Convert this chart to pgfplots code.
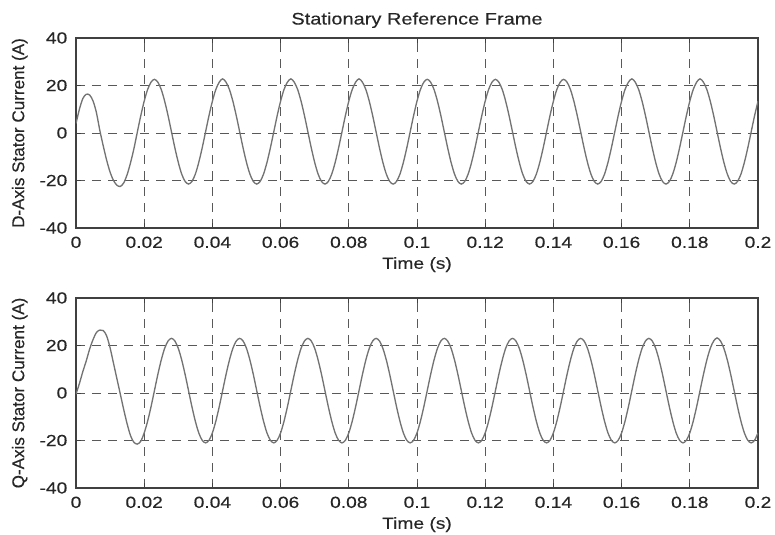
\documentclass[border=0pt]{standalone}
\usepackage{fontspec}
\setmainfont[FakeStretch=1.2,FakeBold=0.3]{Liberation Sans}
\newfontfamily\ylabfont[FakeBold=0.3]{Liberation Sans}
\usepackage{pgfplots}
\pgfplotsset{compat=1.18}

% time in ms, current in A
\pgfplotstableread{
t i
0 4
1 10
2 14.5
3 16.3
4 16
5 13.5
6 8.5
7 1
8 -5.5
9 -11.5
10 -16.5
11 -20
12 -22
13 -22.5
14 -21
15 -17.5
16 -12.5
17 -6.5
18 0.5
19 7.3
20 13.4
21 18.3
22 21.4
23 22.6
24 21.4
25 18.3
26 13.4
27 7.3
28 0.5
29 -6.3
30 -12.4
31 -17.3
32 -20.4
33 -21.5
34 -20.4
35 -17.3
36 -12.4
37 -6.3
38 0.5
39 7.3
40 13.4
41 18.3
42 21.4
43 22.8
44 21.4
45 18.3
46 13.4
47 7.3
48 0.5
49 -6.3
50 -12.4
51 -17.3
52 -20.4
53 -21.5
54 -20.4
55 -17.3
56 -12.4
57 -6.3
58 0.5
59 7.3
60 13.4
61 18.3
62 21.4
63 22.8
64 21.4
65 18.3
66 13.4
67 7.3
68 0.5
69 -6.3
70 -12.4
71 -17.3
72 -20.4
73 -21.5
74 -20.4
75 -17.3
76 -12.4
77 -6.3
78 0.5
79 7.3
80 13.4
81 18.3
82 21.4
83 22.8
84 21.4
85 18.3
86 13.4
87 7.3
88 0.5
89 -6.3
90 -12.4
91 -17.3
92 -20.4
93 -21.5
94 -20.4
95 -17.3
96 -12.4
97 -6.3
98 0.5
99 7.3
100 13.4
101 18.3
102 21.4
103 22.6
104 21.4
105 18.3
106 13.4
107 7.3
108 0.5
109 -6.3
110 -12.4
111 -17.3
112 -20.4
113 -21.5
114 -20.4
115 -17.3
116 -12.4
117 -6.3
118 0.5
119 7.3
120 13.4
121 18.3
122 21.4
123 22.6
124 21.4
125 18.3
126 13.4
127 7.3
128 0.5
129 -6.3
130 -12.4
131 -17.3
132 -20.4
133 -21.5
134 -20.4
135 -17.3
136 -12.4
137 -6.3
138 0.5
139 7.3
140 13.4
141 18.3
142 21.4
143 22.6
144 21.4
145 18.3
146 13.4
147 7.3
148 0.5
149 -6.3
150 -12.4
151 -17.3
152 -20.4
153 -21.5
154 -20.4
155 -17.3
156 -12.4
157 -6.3
158 0.5
159 7.3
160 13.4
161 18.3
162 21.4
163 22.8
164 21.4
165 18.3
166 13.4
167 7.3
168 0.5
169 -6.3
170 -12.4
171 -17.3
172 -20.4
173 -21.5
174 -20.4
175 -17.3
176 -12.4
177 -6.3
178 0.5
179 7.3
180 13.4
181 18.3
182 21.4
183 22.8
184 21.4
185 18.3
186 13.4
187 7.3
188 0.5
189 -6.3
190 -12.4
191 -17.3
192 -20.4
193 -21.5
194 -20.4
195 -17.3
196 -12.4
197 -6.3
198 0.5
199 7.3
200 13.4
}\dcurrent

\pgfplotstableread{
t i
0 -0.5
1 4
2 9
3 13.5
4 18.5
5 22.5
6 25.5
7 26.5
8 26.3
9 24
10 19
11 12.5
12 6
13 -0.5
14 -7
15 -13
16 -18
17 -20.8
18 -21.5
19 -20.3
20 -16.8
21 -11.9
22 -5.8
23 1
24 7.8
25 13.9
26 18.8
27 21.9
28 23
29 21.9
30 18.8
31 13.9
32 7.8
33 1
34 -5.8
35 -11.9
36 -16.8
37 -19.9
38 -21
39 -19.9
40 -16.8
41 -11.9
42 -5.8
43 1
44 7.8
45 13.9
46 18.8
47 21.9
48 23
49 21.9
50 18.8
51 13.9
52 7.8
53 1
54 -5.8
55 -11.9
56 -16.8
57 -19.9
58 -21
59 -19.9
60 -16.8
61 -11.9
62 -5.8
63 1
64 7.8
65 13.9
66 18.8
67 21.9
68 23
69 21.9
70 18.8
71 13.9
72 7.8
73 1
74 -5.8
75 -11.9
76 -16.8
77 -19.9
78 -21
79 -19.9
80 -16.8
81 -11.9
82 -5.8
83 1
84 7.8
85 13.9
86 18.8
87 21.9
88 23
89 21.9
90 18.8
91 13.9
92 7.8
93 1
94 -5.8
95 -11.9
96 -16.8
97 -19.9
98 -21
99 -19.9
100 -16.8
101 -11.9
102 -5.8
103 1
104 7.8
105 13.9
106 18.8
107 21.9
108 23
109 21.9
110 18.8
111 13.9
112 7.8
113 1
114 -5.8
115 -11.9
116 -16.8
117 -19.9
118 -21
119 -19.9
120 -16.8
121 -11.9
122 -5.8
123 1
124 7.8
125 13.9
126 18.8
127 21.9
128 23
129 21.9
130 18.8
131 13.9
132 7.8
133 1
134 -5.8
135 -11.9
136 -16.8
137 -19.9
138 -21
139 -19.9
140 -16.8
141 -11.9
142 -5.8
143 1
144 7.8
145 13.9
146 18.8
147 21.9
148 23
149 21.9
150 18.8
151 13.9
152 7.8
153 1
154 -5.8
155 -11.9
156 -16.8
157 -19.9
158 -21
159 -19.9
160 -16.8
161 -11.9
162 -5.8
163 1
164 7.8
165 13.9
166 18.8
167 21.9
168 23
169 21.9
170 18.8
171 13.9
172 7.8
173 1
174 -5.8
175 -11.9
176 -16.8
177 -19.9
178 -21
179 -19.9
180 -16.8
181 -11.9
182 -5.8
183 1
184 7.8
185 13.9
186 18.8
187 21.9
188 23.2
189 21.9
190 18.8
191 13.9
192 7.8
193 1
194 -5.8
195 -11.9
196 -16.8
197 -19.9
198 -21
199 -19.9
200 -16.8
}\qcurrent

\pgfplotsset{
  statorax/.style={
    scale only axis,
    width=511.5pt, height=142.5pt,
    xmin=0, xmax=200, ymin=-40, ymax=40,
    xtick={0,20,40,60,80,100,120,140,160,180,200},
    xticklabels={0,0.02,0.04,0.06,0.08,0.1,0.12,0.14,0.16,0.18,0.2},
    ytick={-40,-20,0,20,40},
    yticklabels={-40,-20,0,20,40},
    scaled ticks=false,
    tick align=inside,
    major tick length=4pt,
    grid=major,
    major grid style={black!65, line width=0.6pt, dash pattern=on 7pt off 5pt},
    axis line style={black!75, line width=0.8pt},
    tick style={black!75, line width=0.6pt},
    ticklabel style={font=\fontsize{12}{14}\selectfont, text=black!85},
    xticklabel style={yshift=-3pt},
    yticklabel style={xshift=-3pt},
    xlabel={Time (s)},
    xlabel style={font=\fontsize{12}{14}\selectfont, text=black!85, yshift=0pt},
    ylabel style={font=\ylabfont\fontsize{12.8}{14}\selectfont, text=black!85, yshift=2pt},
  },
  statorline/.style={black!55, line width=1pt, smooth, no markers},
}

\begin{document}
\begin{tikzpicture}
\useasboundingbox (0,0) rectangle (581.25pt,401.25pt);
\begin{axis}[statorax,
  at={(57pt,230.25pt)}, anchor=south west,
  title={Stationary Reference Frame},
  title style={font=\fontsize{12.5}{14}\selectfont, text=black!85, yshift=-2pt},
  ylabel={D-Axis Stator Current (A)}]
\addplot[statorline] table[x=t, y=i] {\dcurrent};
\end{axis}
\begin{axis}[statorax,
  at={(57pt,35.25pt)}, anchor=south west,
  ylabel={Q-Axis Stator Current (A)}]
\addplot[statorline] table[x=t, y=i] {\qcurrent};
\end{axis}
\end{tikzpicture}
\end{document}
